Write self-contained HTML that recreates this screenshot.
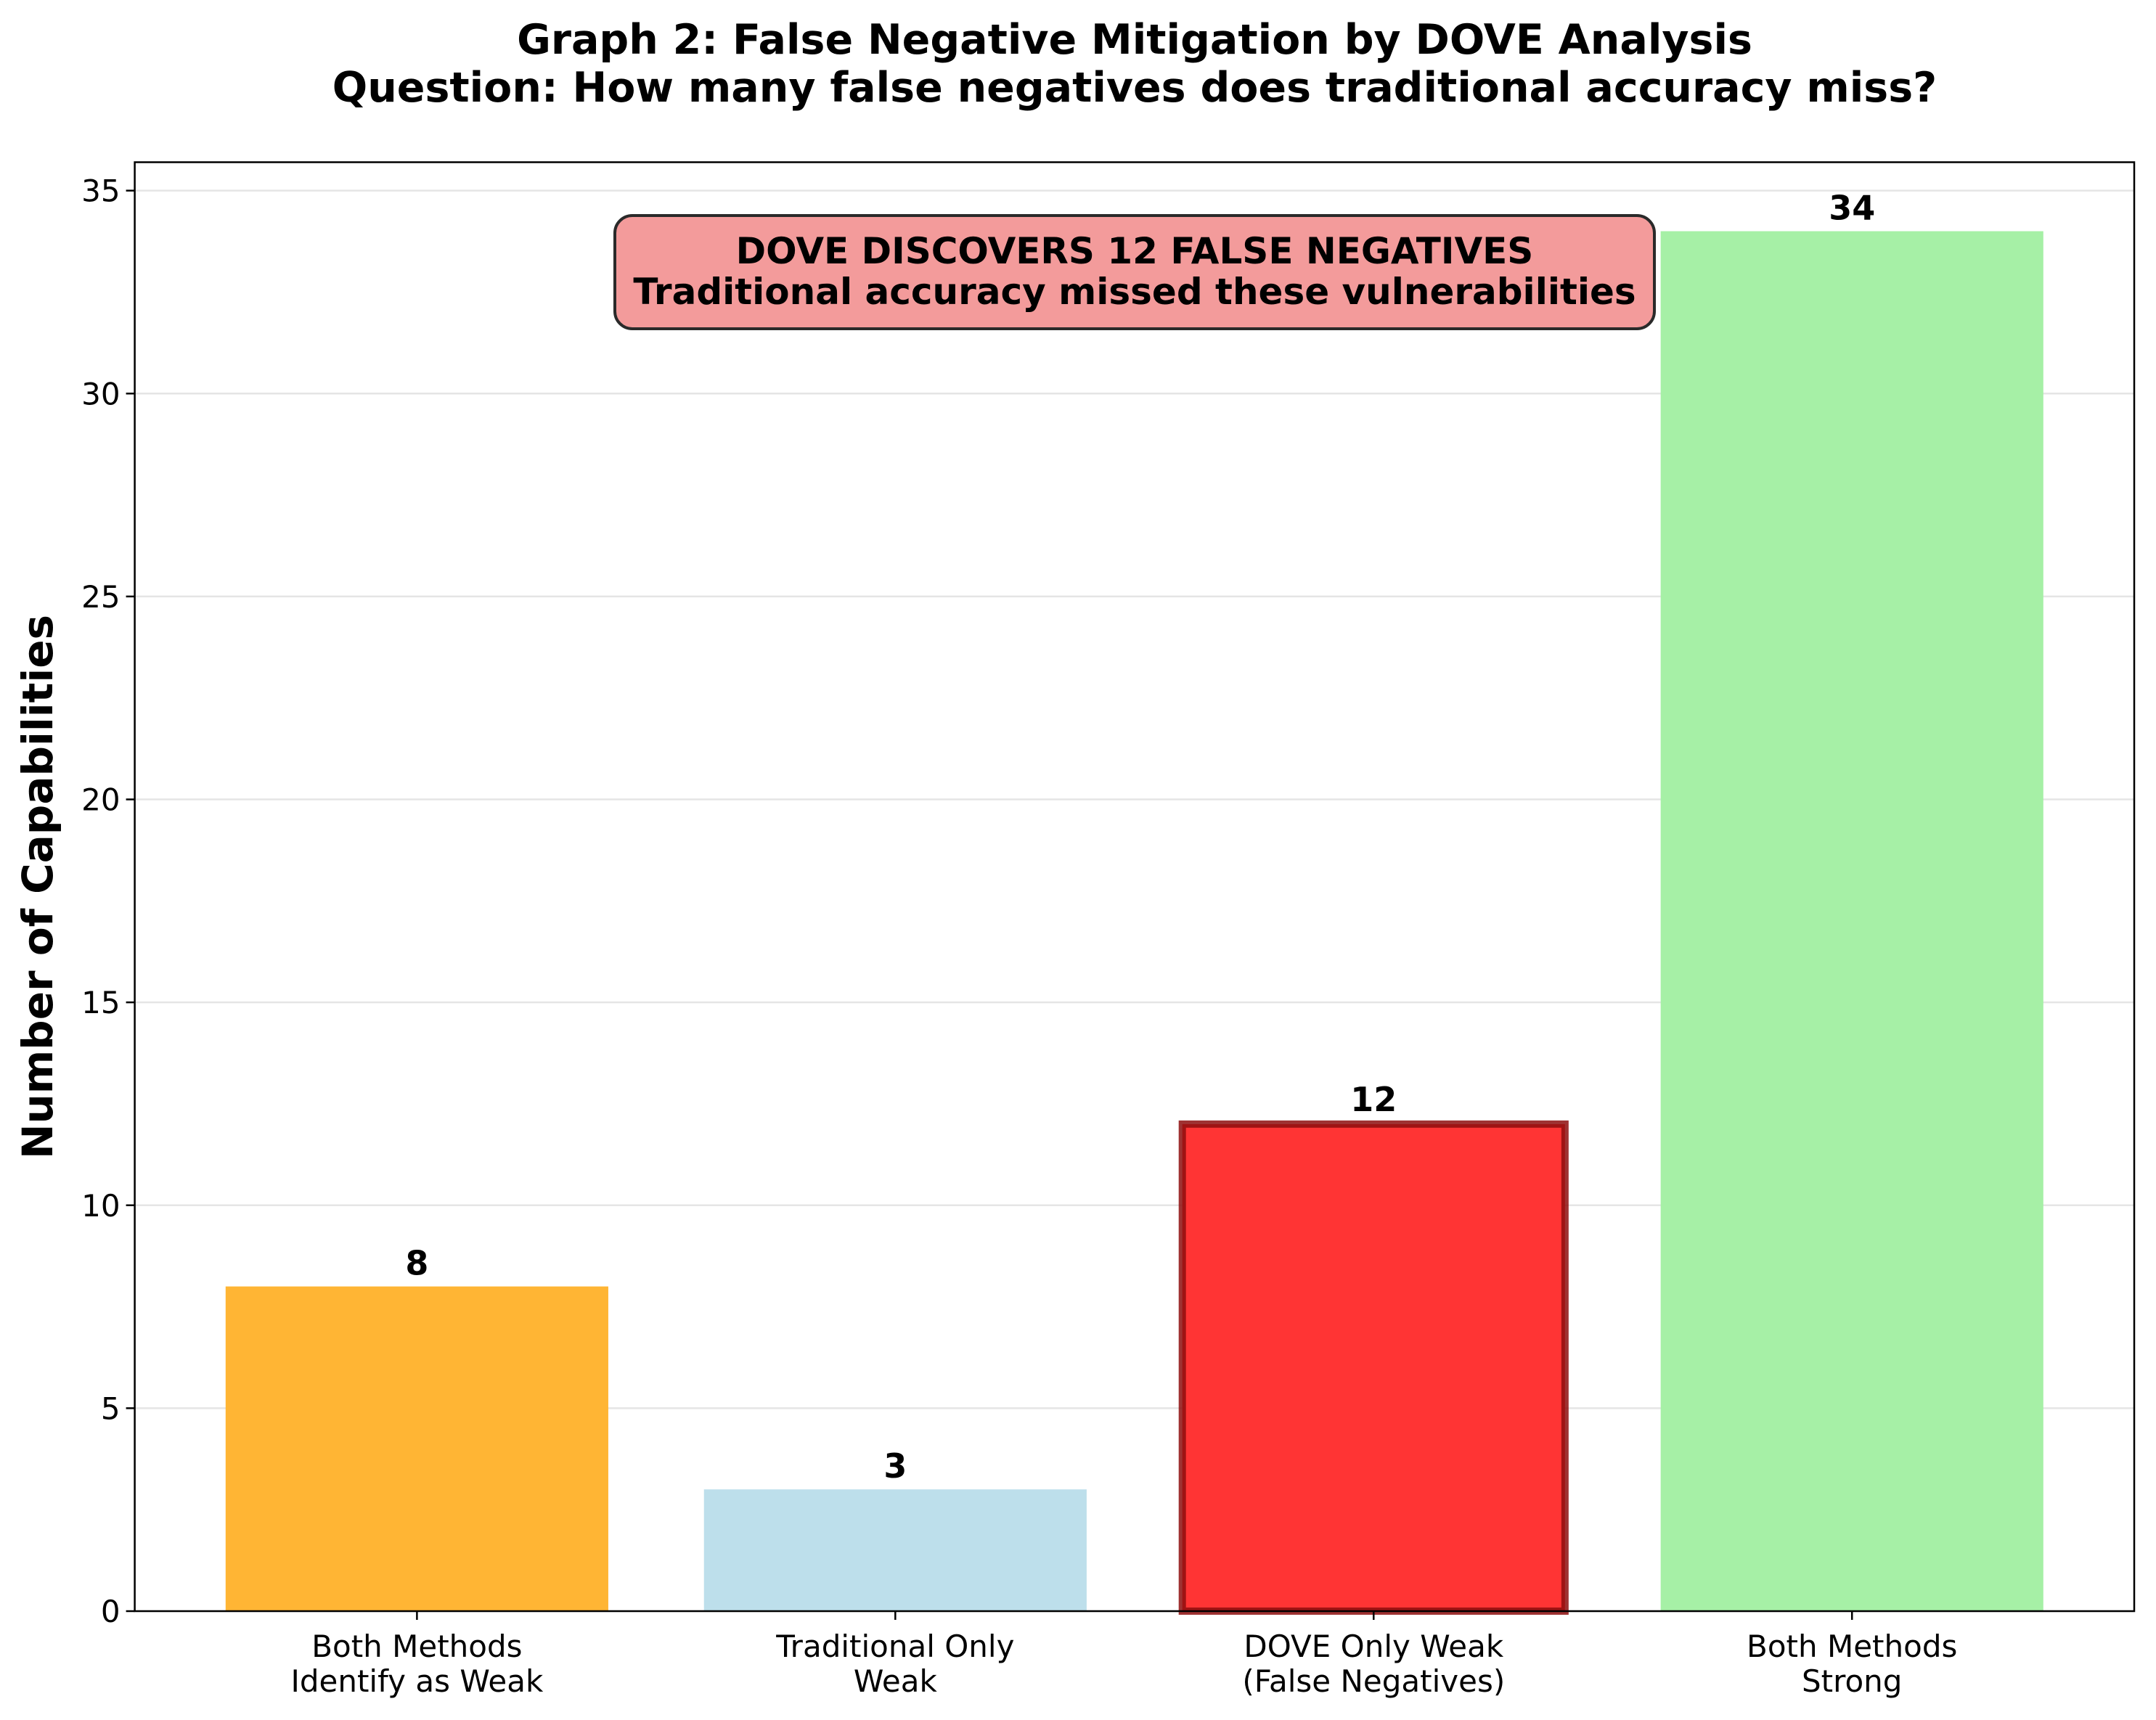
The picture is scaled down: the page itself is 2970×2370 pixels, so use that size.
<!DOCTYPE html>
<html><head><meta charset="utf-8"><style>
html,body{margin:0;padding:0;background:#fff}
svg{display:block;font-family:"DejaVu Sans","Liberation Sans",sans-serif}
</style></head><body>
<svg id="chart" width="2970" height="2370" viewBox="0 0 2970 2370" xmlns="http://www.w3.org/2000/svg">
<rect width="2970" height="2370" fill="#fff"/>
<g id="grid"></g>
<g id="bars"></g>
<g id="axes"></g>
<text x="1563" y="74" text-anchor="middle" font-size="57" font-weight="bold">Graph 2: False Negative Mitigation by DOVE Analysis</text>
<text x="1563" y="140" text-anchor="middle" font-size="57" font-weight="bold">Question: How many false negatives does traditional accuracy miss?</text>
<text transform="translate(72,1222) rotate(-90)" text-anchor="middle" font-size="58" font-weight="bold">Number of Capabilities</text>
<g>
<rect x="847" y="297" width="1432" height="156" rx="24" fill="#f39b9b" stroke="#2a2a2a" stroke-width="4"/>
<text x="1563" y="363" text-anchor="middle" font-size="50" font-weight="bold">DOVE DISCOVERS 12 FALSE NEGATIVES</text>
<text x="1563" y="419" text-anchor="middle" font-size="50" font-weight="bold">Traditional accuracy missed these vulnerabilities</text>
</g>
</svg>
<script>
const categories = [["Both Methods","Identify as Weak"],["Traditional Only","Weak"],["DOVE Only Weak","(False Negatives)"],["Both Methods","Strong"]];
const values = [8, 3, 12, 34];
const yTicks = [0, 5, 10, 15, 20, 25, 30, 35];
const colors = ["#ffb534", "#bddfeb", "#ff3434", "#a6f0a6"];

const NS = "http://www.w3.org/2000/svg";
const L = 185.6, R = 2940, T = 223.5, B = 2220;
const xMin = -0.59, xMax = 3.59, yMin = 0, yMax = 35.7;
function xs(v){ return L + (v - xMin) / (xMax - xMin) * (R - L); }
function ys(v){ return B - (v - yMin) / (yMax - yMin) * (B - T); }
function mk(tag, attrs, parent){ const e = document.createElementNS(NS, tag); for (const k in attrs) e.setAttribute(k, attrs[k]); parent.appendChild(e); return e; }

const grid = document.getElementById('grid');
const bars = document.getElementById('bars');
const axes = document.getElementById('axes');

yTicks.forEach(t => {
  const y = ys(t);
  const g = mk('line', {x1: L, x2: R, y1: y, y2: y, stroke: '#e5e5e5', 'stroke-width': 2.5}, grid);
  
  
  const tk = mk('line', {x1: L - 12, x2: L, y1: y, y2: y, stroke: '#000', 'stroke-width': 2.5}, axes);
  
  
  const tl = mk('text', {x: L - 20, y: y + 15, 'text-anchor': 'end', 'font-size': 42}, axes);
  
  
  tl.textContent = t;
});

const bw = 0.8;
values.forEach((v, i) => {
  const x0 = xs(i - bw / 2), x1 = xs(i + bw / 2), y = ys(v);
  const r = mk('rect', {x: x0, y: y, width: x1 - x0, height: B - y, fill: colors[i]}, bars);
  if (i === 2) { r.setAttribute('stroke', '#8e0e0e'); r.setAttribute('stroke-width', 10); r.setAttribute('stroke-opacity', '0.85'); }
  
  
  const vl = mk('text', {x: xs(i), y: y - (i === 2 ? 18 : 16), 'text-anchor': 'middle', 'font-size': 46, 'font-weight': 'bold'}, bars);
  
  
  vl.textContent = v;
  const tk = mk('line', {x1: xs(i), x2: xs(i), y1: B, y2: B + 12, stroke: '#000', 'stroke-width': 2.5}, axes);
  
  
  categories[i].forEach((line, j) => {
    const t = mk('text', {x: xs(i), y: 2283 + j * 48, 'text-anchor': 'middle', 'font-size': 42}, axes);
    
    
    t.textContent = line;
  });
});

const frame = mk('rect', {x: L, y: T, width: R - L, height: B - T, fill: 'none', stroke: '#000', 'stroke-width': 2.5}, axes);


</script>
</body></html>
